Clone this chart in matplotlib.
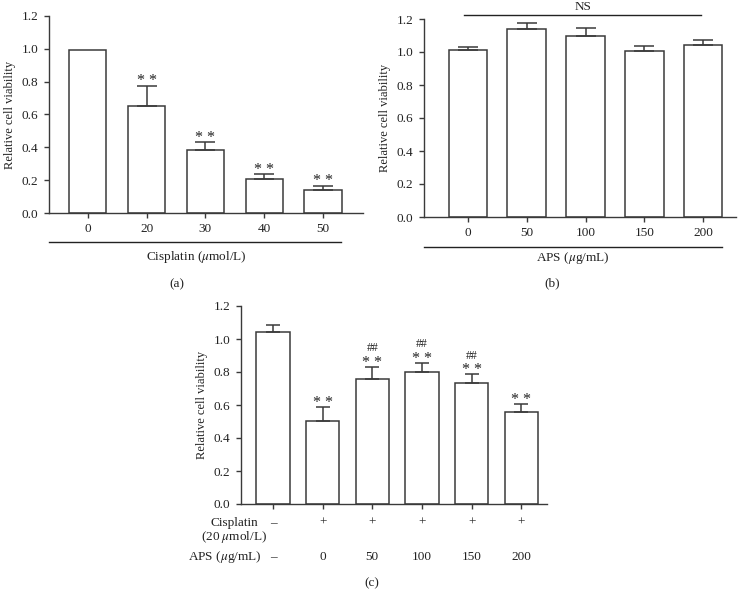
import numpy as np
import matplotlib.pyplot as plt

plt.rcParams['font.family'] = ['Liberation Serif', 'DejaVu Serif']
plt.rcParams['mathtext.fontset'] = 'stix'

# data (a)
cis_doses = ['0', '20', '30', '40', '50']
cis_mean = [0.99, 0.65, 0.385, 0.205, 0.14]
cis_err = [0.0, 0.125, 0.045, 0.03, 0.025]
cis_sig = ['', '* *', '* *', '* *', '* *']

# data (b)
aps_doses = ['0', '50', '100', '150', '200']
aps_mean = [1.015, 1.14, 1.10, 1.005, 1.04]
aps_err = [0.015, 0.035, 0.045, 0.03, 0.03]

# data (c)
comb_cis = ['–', '+', '+', '+', '+', '+']
comb_aps = ['–', '0', '50', '100', '150', '200']
comb_mean = [1.045, 0.505, 0.76, 0.80, 0.735, 0.56]
comb_err = [0.04, 0.085, 0.07, 0.055, 0.05, 0.045]
comb_star = ['', '* *', '* *', '* *', '* *', '* *']
comb_hash = ['', '', '##', '##', '##', '']

ec = '#3a3a3a'
tc = '#222222'
W, H = 744, 600

def px_axes(fig, l, r, t, b):
    return fig.add_axes([l / W, 1 - b / H, (r - l) / W, (b - t) / H])

def style(ax):
    for s in ['top', 'right']:
        ax.spines[s].set_visible(False)
    for s in ['left', 'bottom']:
        ax.spines[s].set_color(ec)
        ax.spines[s].set_linewidth(1.0)
    ax.set_ylim(0, 1.2)
    ax.set_yticks(np.arange(0, 1.21, 0.2))
    ax.set_yticklabels(['%.1f' % v for v in np.arange(0, 1.21, 0.2)])
    ax.tick_params(axis='both', colors=ec, labelcolor=tc, labelsize=9.5,
                   length=3.5, width=1.0, direction='out', pad=4)
    ax.set_ylabel('Relative cell viability', fontsize=9, color=tc, labelpad=4)

def bars(ax, mean, err, width, cap):
    x = np.arange(len(mean))
    ax.bar(x, mean, width=width, color='white', edgecolor=ec, linewidth=1.1, zorder=2)
    for xi, m, e in zip(x, mean, err):
        if e > 0:
            ax.errorbar(xi, m, yerr=[[0], [e]], fmt='none', ecolor=ec,
                        elinewidth=1.1, capsize=cap, capthick=1.1, zorder=3)
    return x

fig = plt.figure(figsize=(7.44, 6), dpi=100)

# (a)
ax1 = px_axes(fig, 49, 363, 16, 213)
style(ax1)
x1 = bars(ax1, cis_mean, cis_err, 0.63, 7)
ax1.set_xlim(-0.66, 4.68)
ax1.set_xticks(x1)
ax1.set_xticklabels(cis_doses)
for xi, m, e, s in zip(x1, cis_mean, cis_err, cis_sig):
    if s:
        ax1.text(xi, m + e + 0.004, s, ha='center', va='baseline', fontsize=11.5, color=tc)
ax1.plot([-0.66, 4.31], [-0.147, -0.147], transform=ax1.get_xaxis_transform(),
         color=tc, lw=1.0, clip_on=False)
fig.text(196 / W, 1 - 257 / H, 'Cisplatin ($\\mu$mol/L)', ha='center', va='center',
         fontsize=9.5, color=tc)
fig.text(177 / W, 1 - 284 / H, '(a)', ha='center', va='center', fontsize=9.5, color=tc)

# (b)
ax2 = px_axes(fig, 424, 736, 19, 217)
style(ax2)
x2 = bars(ax2, aps_mean, aps_err, 0.66, 7)
ax2.set_xlim(-0.75, 4.56)
ax2.set_xticks(x2)
ax2.set_xticklabels(aps_doses)
ax2.plot([-0.75, 4.33], [-0.152, -0.152], transform=ax2.get_xaxis_transform(),
         color=tc, lw=1.0, clip_on=False)
ax2.plot([-0.07, 3.96], [1.224, 1.224], color=tc, lw=1.0, clip_on=False)
ax2.text(1.95, 1.235, 'NS', ha='center', va='bottom', fontsize=9.5, color=tc)
fig.text(573 / W, 1 - 258 / H, 'APS ($\\mu$g/mL)', ha='center', va='center',
         fontsize=9.5, color=tc)
fig.text(552 / W, 1 - 283 / H, '(b)', ha='center', va='center', fontsize=9.5, color=tc)

# (c)
ax3 = px_axes(fig, 241, 547, 306, 504)
style(ax3)
x3 = bars(ax3, comb_mean, comb_err, 0.67, 5)
ax3.set_xlim(-0.645, 5.52)
ax3.set_xticks(x3)
ax3.set_xticklabels([])
for xi, m, e, s, h in zip(x3, comb_mean, comb_err, comb_star, comb_hash):
    if s:
        ax3.text(xi, m + e + 0.0, s, ha='center', va='baseline', fontsize=11.5, color=tc)
    if h:
        ax3.text(xi, m + e + 0.095, h, ha='center', va='baseline', fontsize=8.5, color=tc)
for xi, c, a in zip(x3, comb_cis, comb_aps):
    ax3.text(xi, -0.095, c, transform=ax3.get_xaxis_transform(), ha='center', va='center',
             fontsize=9.5, color=tc)
    ax3.text(xi, -0.268, a, transform=ax3.get_xaxis_transform(), ha='center', va='center',
             fontsize=9.5, color=tc)
fig.text(234 / W, 1 - 523 / H, 'Cisplatin', ha='center', va='center', fontsize=9.5, color=tc)
fig.text(234 / W, 1 - 537 / H, '(20 $\\mu$mol/L)', ha='center', va='center', fontsize=9.5, color=tc)
fig.text(262 / W, 1 - 557 / H, 'APS ($\\mu$g/mL)', ha='right', va='center', fontsize=9.5, color=tc)
fig.text(372 / W, 1 - 583 / H, '(c)', ha='center', va='center', fontsize=9.5, color=tc)

fig.savefig('out.png', dpi=100)
